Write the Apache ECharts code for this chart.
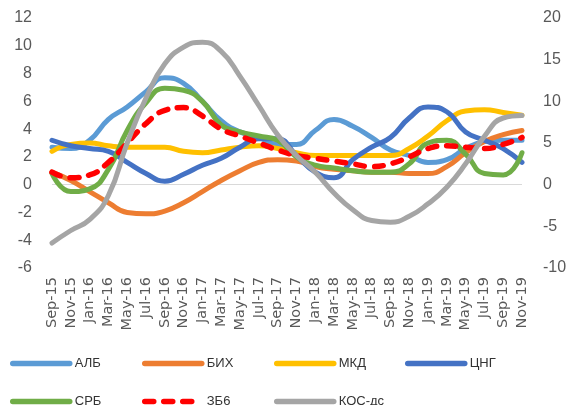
<!doctype html>
<html lang="en">
<head>
    <meta charset="utf-8">
    <title>Chart</title>
    <script src="https://cdn.jsdelivr.net/npm/echarts@6/dist/echarts.min.js"></script>
</head>
<body style="margin:0">
    <div id="main" style="width:570px; height:405px;"></div>
    <script type="text/javascript">
        var months = ['Sep-15', 'Nov-15', 'Jan-16', 'Mar-16', 'May-16', 'Jul-16', 'Sep-16', 'Nov-16',
            'Jan-17', 'Mar-17', 'May-17', 'Jul-17', 'Sep-17', 'Nov-17',
            'Jan-18', 'Mar-18', 'May-18', 'Jul-18', 'Sep-18', 'Nov-18',
            'Jan-19', 'Mar-19', 'May-19', 'Jul-19', 'Sep-19', 'Nov-19'];

        // left axis
        var alb = [2.7, 2.6, 3.2, 4.7, 5.6, 6.7, 7.7, 7.3, 6.0, 4.6, 3.8, 3.4, 2.9, 2.9, 3.9, 4.7, 4.2, 3.4, 2.5, 2.1, 1.6, 1.8, 2.6, 3.1, 3.2, 3.2];
        var bih = [0.9, 0.3, -0.5, -1.3, -2.0, -2.1, -1.9, -1.3, -0.5, 0.3, 1.0, 1.6, 1.8, 1.7, 1.3, 1.1, 1.0, 0.9, 0.9, 0.8, 0.8, 1.3, 2.3, 3.1, 3.6, 3.9];
        var mkd = [2.4, 2.9, 3.0, 2.8, 2.7, 2.7, 2.7, 2.4, 2.3, 2.5, 2.7, 2.8, 2.6, 2.3, 2.1, 2.1, 2.1, 2.1, 2.1, 2.6, 3.5, 4.6, 5.3, 5.4, 5.2, 5.0];
        var cng = [3.2, 2.8, 2.6, 2.4, 1.6, 0.8, 0.25, 0.75, 1.4, 1.9, 2.7, 3.3, 3.3, 2.1, 0.9, 0.5, 1.8, 2.7, 3.4, 4.8, 5.6, 5.25, 3.8, 3.2, 2.6, 1.6];
        var srb = [0.8, -0.5, -0.3, 1.1, 3.9, 5.9, 6.95, 6.8, 6.0, 4.3, 3.8, 3.5, 3.2, 2.0, 1.4, 1.2, 1.0, 0.9, 0.9, 1.5, 3.0, 3.2, 2.2, 0.8, 0.7, 2.3];
        var zb6 = [0.9, 0.5, 0.7, 1.6, 3.0, 4.4, 5.35, 5.55, 4.95, 4.0, 3.5, 3.0, 2.5, 2.1, 1.9, 1.7, 1.5, 1.3, 1.5, 2.0, 2.6, 2.8, 2.7, 2.6, 2.9, 3.4];
        // right axis
        var kos = [-7.0, -5.5, -4.2, -1.3, 5.0, 10.4, 14.5, 16.5, 17.1, 16.0, 13.0, 9.5, 6.0, 3.5, 1.5, -1.0, -3.0, -4.3, -4.5, -3.8, -2.3, -0.3, 2.5, 5.8, 8.0, 8.3];

        var names = ['АЛБ', 'БИХ', 'МКД', 'ЦНГ', 'СРБ', 'ЗБ6', 'КОС-дс'];
        var colors = ['#5B9BD5', '#ED7D31', '#FFC000', '#4472C4', '#70AD47', '#FF0000', '#A5A5A5'];
        var values = [alb, bih, mkd, cng, srb, zb6, kos];
        var legendPos = [[10, 357], [142, 357], [274, 357], [405, 357], [10, 395], [142, 395], [274, 395]];

        var font = 'Liberation Sans';
        var chart = echarts.init(document.getElementById('main'));

        var series = names.map(function (n, i) {
            var s = {
                name: n,
                type: 'line',
                data: values[i],
                yAxisIndex: i === 6 ? 1 : 0,
                smooth: 0.5,
                symbol: 'none',
                color: colors[i],
                lineStyle: { width: 5, color: colors[i], cap: 'round' },
                animation: false
            };
            if (n === 'ЗБ6') {
                s.lineStyle.type = [9, 10];
                s.lineStyle.width = 5.5;
            }
            if (i === 0) {
                s.markLine = {
                    silent: true,
                    symbol: 'none',
                    label: { show: false },
                    lineStyle: { color: '#d9d9d9', width: 1, type: 'solid' },
                    data: [{ yAxis: 0 }],
                    z: 1
                };
            }
            return s;
        });

        var legends = names.map(function (n, i) {
            return {
                data: [n],
                left: legendPos[i][0],
                top: legendPos[i][1],
                padding: 0,
                itemWidth: 57,
                itemHeight: 10,
                itemStyle: { opacity: 0 },
                lineStyle: { width: 5.5, cap: 'round' },
                textStyle: { fontFamily: font, fontSize: 13, color: '#333' },
                selectedMode: false
            };
        });

        var option = {
            animation: false,
            grid: { left: 52, right: 48, top: 18, bottom: 137 },
            legend: legends,
            xAxis: {
                type: 'category',
                data: months,
                boundaryGap: false,
                axisLine: { show: false },
                axisTick: { show: false },
                axisLabel: {
                    rotate: 90,
                    interval: 0,
                    margin: 9,
                    fontFamily: 'DejaVu Sans',
                    fontSize: 14.5,
                    color: '#595959'
                }
            },
            yAxis: [{
                type: 'value',
                min: -6, max: 12, interval: 2,
                splitLine: { show: false },
                axisLine: { show: false },
                axisTick: { show: false },
                axisLabel: { margin: 20, fontFamily: font, fontSize: 16, color: '#595959' }
            }, {
                type: 'value',
                min: -10, max: 20, interval: 5,
                splitLine: { show: false },
                axisLine: { show: false },
                axisTick: { show: false },
                axisLabel: { margin: 21, fontFamily: font, fontSize: 16, color: '#595959' }
            }],
            series: series
        };

        chart.setOption(option);
    </script>
</body>
</html>
